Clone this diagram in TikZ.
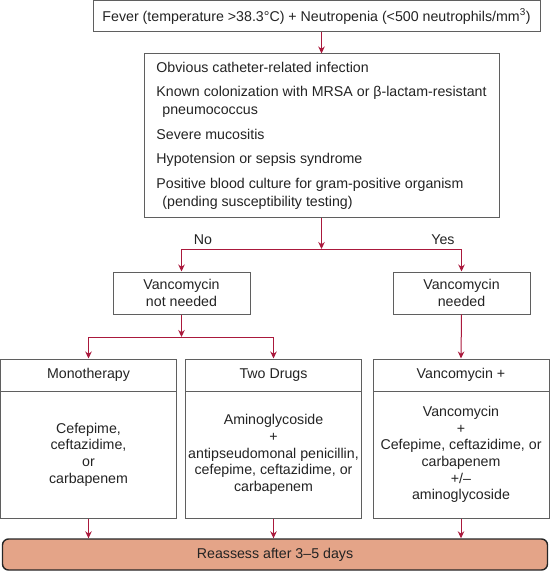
\documentclass[tikz,border=0pt]{standalone}
\usepackage{fontspec}
\setmainfont{Liberation Sans}
\usetikzlibrary{arrows.meta,positioning}
\definecolor{flowred}{RGB}{170,25,60}
\definecolor{boxgray}{RGB}{95,95,95}
\definecolor{inkgray}{RGB}{35,35,35}
\definecolor{salmon}{RGB}{228,164,136}
\tikzset{
  box/.style={draw=boxgray, line width=1pt, text=inkgray, align=center, inner sep=0pt},
  tag/.style={text=inkgray, inner sep=0pt},
  flow/.style={draw=flowred, line width=1pt, -{Stealth[length=7pt,width=6.5pt]}},
}
\begin{document}
\begin{tikzpicture}[x=1pt, y=-1pt, font=\fontsize{14.2}{17}\selectfont]
 \useasboundingbox (0,0) rectangle (550,572);

 % top of the chart: fever and the criteria for vancomycin
 \node[box, minimum width=447, minimum height=31] (fever) at (316.5,16.5)
  {Fever (temperature >38.3°C) + Neutropenia (<500 neutrophils/mm\textsuperscript{3})};
 \node[box, align=left, minimum width=355, minimum height=163,
   font=\fontsize{14.2}{18}\selectfont] (crit) at (321.5,135.5) {%
  Obvious catheter-related infection\\[6.5pt]
  Known colonization with MRSA or β-lactam-resistant\\
  \hspace*{6pt}pneumococcus\\[6.5pt]
  Severe mucositis\\[6.5pt]
  Hypotension or sepsis syndrome\\[6.5pt]
  Positive blood culture for gram-positive organism\\
  \hspace*{6pt}(pending susceptibility testing)};

 % the two answers
 \coordinate (fork) at (321.5,249);
 \node[tag] (no) at (203,240) {No};
 \node[tag] (yes) at (443,240) {Yes};
 \node[box, minimum width=137, minimum height=42] (notneed) at (181.5,293) {Vancomycin\\not needed};
 \node[box, minimum width=137, minimum height=42] (needed) at (461.5,293) {Vancomycin\\needed};
 \coordinate (split) at (181.5,337);

 % define a command for a therapy column {name}{x}{header}{body}
 \newcommand{\TherapyBox}[4]{
  \node[box, minimum width=176, minimum height=32] (#1) at (#2,375) {#3};
  \node[box, minimum width=176, minimum height=127,
    font=\fontsize{14.2}{16.6}\selectfont] (#1-b) at (#2,454.5) {#4};
 }
 \TherapyBox{mono}{88.5}{Monotherapy}{Cefepime,\\ceftazidime,\\or\\carbapenem}
 \TherapyBox{two}{273.5}{Two Drugs}{Aminoglycoside\\+\\antipseudomonal penicillin,\\cefepime, ceftazidime, or\\carbapenem}
 \TherapyBox{vanc}{461}{Vancomycin +}{Vancomycin\\+\\Cefepime, ceftazidime, or\\carbapenem\\+/–\\aminoglycoside}

 \node[box, draw=black!85, line width=1.4pt, fill=salmon, rounded corners=6pt,
   minimum width=545, minimum height=31] (reassess) at (275,554.5) {Reassess after 3–5 days};

 % connect the boxes
 \draw[flow] (crit.north |- fever.south) -- (crit.north);
 \draw[flow] (crit.south) -- (fork);
 \draw[flow] (fork) -| (notneed.north);
 \draw[flow] (fork) -| (needed.north);
 \draw[flow] (notneed.south) -- (split);
 \draw[flow] (split) -| (mono.north);
 \draw[flow] (split) -| (two.north);
 \draw[flow] (needed.south) -- (vanc.north);
 \foreach \col in {mono,two,vanc}
  \draw[flow] (\col-b.south) -- (\col-b.south |- reassess.north);
\end{tikzpicture}
\end{document}
